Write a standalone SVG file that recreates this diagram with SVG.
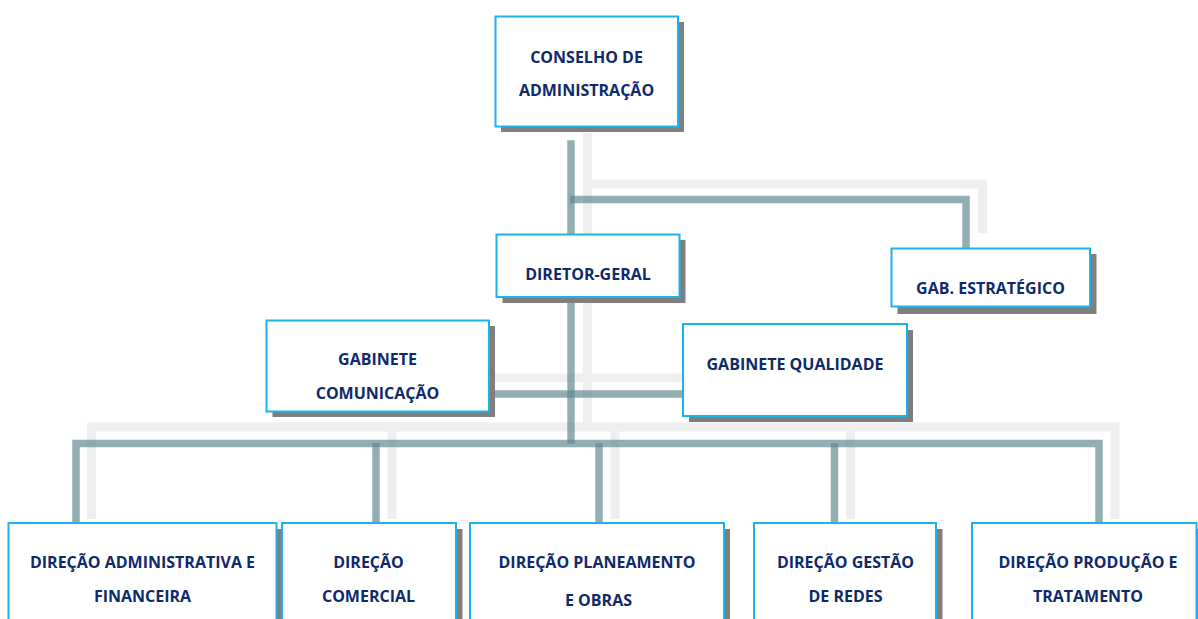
<svg xmlns="http://www.w3.org/2000/svg" width="1198" height="619" viewBox="0 0 1198 619">
<defs>
<style>
.box{fill:#FFFFFF;stroke:#1CB3EC;stroke-width:2}
.sh{fill:#7F7F7F}
.lt{fill:none;stroke:#EFEFEF;stroke-width:9;stroke-linejoin:miter;stroke-linecap:butt}
.dk{fill:none;stroke:#5F878E;stroke-opacity:0.68;stroke-width:7.5;stroke-linejoin:miter;stroke-linecap:square}
.t{font-family:"Open Sans","Liberation Sans",sans-serif;font-weight:bold;font-size:16px;fill:#0E2A6B;text-anchor:middle}
</style>
</defs>
<rect width="1198" height="619" fill="#FFFFFF"/>
<g id="connectors">
<path class="lt" d="M587.5,133 V427"/>
<path class="lt" d="M587.5,184 H982.5 V233"/>
<path class="lt" d="M495,378 H683"/>
<path class="lt" d="M91.5,519 V427 H1115 V519"/>
<path class="lt" d="M392,427 V519"/>
<path class="lt" d="M615,427 V519"/>
<path class="lt" d="M850.5,427 V519"/>
<path class="dk" d="M571,144 V234"/>
<path class="dk" d="M571,300 V440"/>
<path class="dk" d="M574,199.5 H966 V245"/>
<path class="dk" d="M493,394 H680"/>
<path class="dk" d="M76,520 V443.5 H1099 V520"/>
<path class="dk" d="M376,447 V520"/>
<path class="dk" d="M599,447 V520"/>
<path class="dk" d="M834.5,447 V520"/>
</g>
<g id="conselho">
<rect class="sh" x="501" y="22" width="183" height="110"/>
<rect class="box" x="495.5" y="16.5" width="182.5" height="110"/>
<text class="t" x="586.5" y="62.5">CONSELHO DE</text>
<text class="t" x="586.5" y="96">ADMINISTRAÇÃO</text>
</g>
<g id="diretor-geral">
<rect class="sh" x="502.5" y="240" width="183" height="63"/>
<rect class="box" x="496.5" y="234.5" width="183" height="62.5"/>
<text class="t" x="588" y="279.5">DIRETOR-GERAL</text>
</g>
<g id="gab-estrategico">
<rect class="sh" x="897.5" y="254" width="199" height="60"/>
<rect class="box" x="891.5" y="248.5" width="198.5" height="58"/>
<text class="t" x="990.5" y="293.5">GAB. ESTRATÉGICO</text>
</g>
<g id="gabinete-comunicacao">
<rect class="sh" x="272.5" y="326" width="222.5" height="91"/>
<rect class="box" x="266.5" y="320.5" width="222.5" height="91"/>
<text class="t" x="377.5" y="364.5">GABINETE</text>
<text class="t" x="377.5" y="398.5">COMUNICAÇÃO</text>
</g>
<g id="gabinete-qualidade">
<rect class="sh" x="689" y="330" width="224" height="92"/>
<rect class="box" x="683" y="324" width="224" height="92"/>
<text class="t" x="795" y="369.5">GABINETE QUALIDADE</text>
</g>
<g id="dir-admin">
<rect class="sh" x="14.5" y="529" width="268" height="120"/>
<rect class="box" x="8.5" y="523" width="268" height="120"/>
<text class="t" x="142.5" y="568">DIREÇÃO ADMINISTRATIVA E</text>
<text class="t" x="142.5" y="602">FINANCEIRA</text>
</g>
<g id="dir-comercial">
<rect class="sh" x="288" y="529" width="174.5" height="120"/>
<rect class="box" x="282" y="523" width="174" height="120"/>
<text class="t" x="368.5" y="568">DIREÇÃO</text>
<text class="t" x="368.5" y="602">COMERCIAL</text>
</g>
<g id="dir-planeamento">
<rect class="sh" x="476" y="529" width="254" height="120"/>
<rect class="box" x="470" y="523" width="254" height="120"/>
<text class="t" x="597" y="568">DIREÇÃO PLANEAMENTO</text>
<text class="t" x="598.5" y="605.5">E OBRAS</text>
</g>
<g id="dir-redes">
<rect class="sh" x="760" y="529" width="182.5" height="120"/>
<rect class="box" x="754" y="523" width="182" height="120"/>
<text class="t" x="845.5" y="568">DIREÇÃO GESTÃO</text>
<text class="t" x="845.5" y="602">DE REDES</text>
</g>
<g id="dir-producao">
<rect class="sh" x="978" y="529" width="230" height="120"/>
<rect class="box" x="972" y="523" width="224.5" height="120"/>
<text class="t" x="1088" y="568">DIREÇÃO PRODUÇÃO E</text>
<text class="t" x="1088" y="602">TRATAMENTO</text>
</g>
</svg>
